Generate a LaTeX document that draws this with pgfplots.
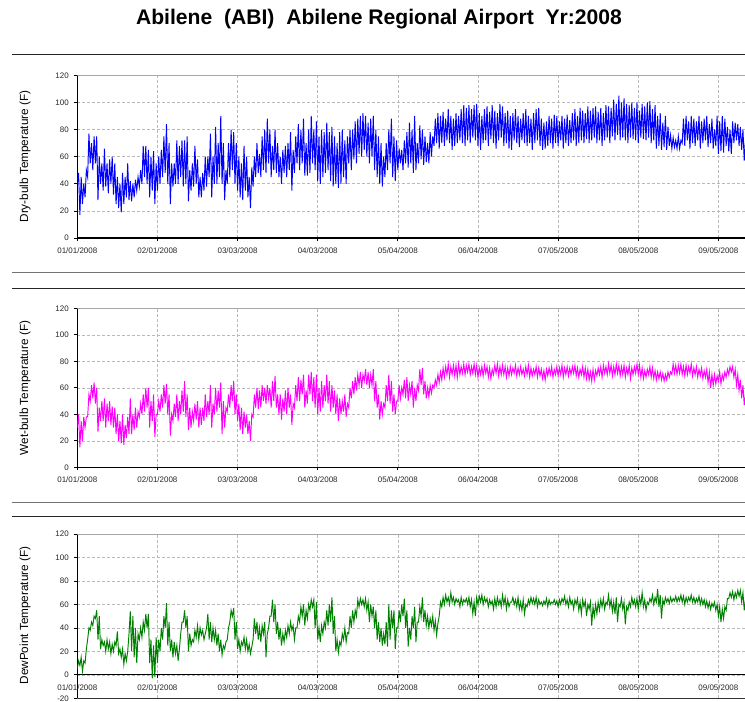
\documentclass[border=0pt]{standalone}
\usepackage{fontspec}
\setmainfont{Liberation Sans}
\usepackage{pgfplots}
\usepackage{pgfplotstable}
\pgfplotsset{compat=1.18}

% daily low / high pairs, 01/01/2008 ... mid Sept 2008 (two readings per day)
\pgfplotstableread[header=false,row sep=\\]{
40\\48\\17\\45\\25\\40\\30\\50\\45\\77\\55\\70\\50\\75\\55\\75\\28\\60\\40\\55\\
35\\66\\38\\55\\33\\58\\40\\60\\32\\55\\25\\45\\22\\40\\19\\48\\25\\45\\30\\55\\
28\\42\\27\\40\\30\\43\\35\\45\\38\\50\\40\\68\\45\\68\\40\\65\\30\\60\\35\\64\\25\\55\\
35\\60\\40\\65\\45\\75\\48\\84\\40\\70\\25\\55\\38\\55\\40\\72\\40\\68\\45\\72\\
38\\72\\40\\75\\27\\50\\35\\55\\38\\68\\40\\58\\30\\45\\30\\48\\35\\60\\38\\60\\
45\\77\\30\\60\\40\\82\\40\\70\\45\\90\\40\\70\\28\\50\\40\\70\\45\\80\\
50\\78\\40\\70\\35\\60\\30\\55\\28\\68\\35\\60\\30\\45\\22\\52\\38\\60\\45\\70\\48\\62\\
45\\75\\50\\80\\48\\88\\55\\80\\45\\68\\50\\80\\48\\70\\45\\60\\40\\65\\48\\68\\
45\\70\\50\\78\\35\\65\\48\\75\\55\\84\\50\\80\\55\\88\\46\\70\\46\\80\\48\\90\\
55\\80\\50\\86\\42\\75\\40\\80\\45\\78\\48\\85\\50\\78\\42\\82\\38\\75\\40\\70\\
37\\78\\40\\80\\45\\72\\40\\75\\55\\80\\50\\80\\58\\86\\55\\88\\62\\90\\60\\92\\
65\\90\\60\\85\\55\\88\\60\\90\\50\\80\\45\\75\\40\\70\\38\\60\\45\\70\\50\\80\\
55\\88\\45\\75\\42\\72\\50\\66\\55\\65\\50\\72\\55\\78\\52\\85\\55\\80\\48\\90\\
50\\70\\55\\83\\58\\80\\54\\75\\56\\70\\55\\78\\60\\75\\68\\88\\70\\92\\66\\90\\
70\\93\\68\\88\\72\\95\\70\\90\\65\\88\\68\\92\\70\\90\\72\\95\\70\\98\\68\\96\\72\\98\\
70\\95\\74\\98\\72\\99\\68\\92\\65\\90\\70\\95\\72\\97\\68\\93\\73\\98\\70\\94\\
66\\92\\72\\99\\74\\97\\68\\92\\70\\94\\66\\90\\65\\92\\72\\95\\70\\90\\67\\88\\
72\\92\\70\\95\\68\\90\\70\\88\\65\\92\\70\\95\\72\\96\\68\\88\\65\\85\\66\\86\\
68\\90\\70\\88\\66\\91\\70\\90\\68\\86\\72\\90\\66\\88\\70\\91\\68\\87\\70\\92\\
72\\95\\68\\90\\70\\96\\72\\94\\70\\92\\73\\97\\70\\94\\72\\96\\74\\97\\70\\93\\
72\\96\\68\\92\\72\\98\\74\\97\\70\\96\\75\\102\\72\\99\\76\\105\\72\\100\\74\\103\\72\\99\\
70\\98\\74\\100\\73\\96\\72\\100\\70\\94\\74\\99\\73\\97\\72\\100\\74\\101\\70\\95\\72\\98\\
66\\90\\68\\92\\65\\85\\67\\90\\65\\82\\68\\76\\66\\74\\67\\72\\66\\75\\66\\72\\
70\\88\\68\\90\\72\\86\\66\\90\\70\\88\\68\\86\\72\\90\\66\\86\\70\\88\\72\\90\\
67\\84\\70\\88\\66\\80\\68\\90\\62\\86\\64\\90\\63\\88\\68\\82\\64\\80\\62\\86\\70\\85\\72\\84\\68\\82\\65\\80\\57\\72\\
}\drybulb

\pgfplotstableread[header=false,row sep=\\]{
30\\40\\15\\35\\20\\38\\30\\38\\38\\55\\50\\62\\52\\64\\48\\60\\27\\45\\35\\50\\
35\\52\\30\\48\\35\\50\\32\\46\\30\\45\\25\\40\\20\\35\\18\\40\\17\\32\\22\\38\\
25\\52\\25\\40\\28\\45\\30\\42\\38\\48\\40\\55\\42\\60\\45\\60\\30\\50\\35\\55\\23\\40\\
40\\50\\42\\55\\45\\62\\48\\63\\40\\55\\24\\40\\35\\48\\38\\55\\35\\50\\40\\58\\
42\\65\\38\\55\\28\\45\\30\\42\\35\\48\\36\\50\\30\\45\\32\\45\\35\\55\\38\\50\\
40\\62\\30\\48\\40\\60\\42\\58\\45\\64\\25\\50\\30\\45\\42\\55\\45\\62\\
50\\65\\40\\55\\35\\48\\28\\45\\25\\42\\30\\40\\25\\35\\20\\40\\38\\55\\45\\60\\44\\58\\
45\\62\\50\\60\\48\\62\\52\\60\\45\\65\\50\\69\\45\\55\\40\\55\\36\\52\\42\\58\\
40\\60\\45\\55\\32\\48\\45\\62\\50\\68\\50\\66\\55\\70\\45\\58\\48\\70\\55\\72\\
50\\68\\45\\70\\40\\60\\42\\65\\45\\62\\50\\70\\48\\65\\42\\62\\45\\58\\40\\55\\
35\\52\\40\\50\\42\\55\\38\\48\\45\\60\\52\\65\\55\\68\\58\\70\\62\\72\\60\\70\\
65\\74\\62\\72\\60\\70\\62\\74\\50\\65\\45\\55\\36\\50\\40\\48\\45\\62\\50\\70\\
48\\65\\42\\55\\40\\50\\50\\62\\52\\60\\55\\66\\52\\68\\50\\62\\55\\65\\45\\60\\
50\\62\\58\\74\\62\\75\\55\\65\\52\\60\\53\\62\\56\\62\\60\\66\\62\\70\\64\\72\\
66\\75\\68\\76\\70\\78\\68\\76\\70\\77\\69\\77\\68\\78\\70\\76\\71\\78\\70\\77\\72\\78\\
70\\76\\71\\78\\70\\77\\68\\75\\70\\76\\69\\77\\71\\76\\68\\75\\67\\74\\70\\77\\
71\\78\\69\\76\\70\\77\\70\\76\\68\\75\\69\\76\\70\\75\\71\\77\\69\\75\\70\\76\\
70\\74\\69\\76\\70\\77\\68\\75\\69\\74\\70\\76\\68\\75\\69\\74\\67\\73\\66\\74\\
69\\75\\70\\76\\68\\74\\70\\76\\69\\75\\70\\77\\68\\75\\70\\76\\69\\75\\70\\76\\
71\\77\\69\\75\\68\\74\\70\\76\\68\\75\\67\\74\\66\\72\\65\\74\\66\\73\\69\\75\\
70\\76\\68\\77\\71\\76\\70\\78\\71\\77\\69\\76\\70\\78\\71\\77\\69\\76\\70\\77\\68\\75\\
70\\77\\67\\75\\70\\76\\71\\78\\70\\77\\68\\75\\67\\73\\68\\74\\70\\76\\68\\75\\67\\73\\
66\\72\\67\\72\\66\\71\\65\\70\\66\\72\\68\\72\\70\\78\\71\\77\\70\\77\\71\\78\\
70\\76\\69\\77\\70\\76\\71\\78\\69\\75\\70\\76\\68\\74\\69\\75\\67\\73\\68\\74\\
64\\72\\60\\70\\62\\70\\63\\69\\65\\72\\63\\70\\66\\72\\68\\74\\70\\76\\72\\76\\68\\74\\62\\70\\58\\66\\52\\62\\47\\55\\
}\wetbulb

\pgfplotstableread[header=false,row sep=\\]{
5\\12\\8\\15\\3\\12\\10\\22\\30\\40\\38\\45\\42\\50\\48\\55\\30\\50\\22\\30\\
25\\28\\20\\30\\22\\28\\18\\26\\20\\28\\25\\37\\18\\22\\15\\22\\9\\18\\12\\20\\
35\\54\\20\\50\\15\\40\\10\\35\\30\\40\\32\\45\\38\\52\\40\\52\\10\\30\\-3\\25\\-2\\32\\
10\\30\\20\\40\\30\\50\\40\\61\\25\\45\\20\\30\\15\\28\\18\\25\\12\\22\\35\\45\\
45\\55\\40\\50\\20\\35\\25\\30\\28\\38\\32\\42\\30\\40\\34\\38\\30\\35\\40\\52\\
30\\45\\28\\40\\30\\38\\25\\35\\20\\30\\17\\25\\22\\28\\30\\40\\45\\55\\
50\\57\\30\\45\\22\\30\\20\\28\\25\\32\\22\\30\\20\\26\\18\\24\\30\\48\\35\\45\\30\\40\\
28\\42\\35\\45\\15\\35\\40\\50\\50\\64\\45\\60\\35\\45\\30\\40\\25\\35\\28\\38\\
32\\42\\35\\45\\38\\42\\30\\40\\40\\50\\45\\58\\50\\60\\42\\55\\48\\60\\55\\64\\
58\\64\\40\\62\\30\\40\\28\\42\\35\\45\\40\\55\\42\\60\\45\\66\\35\\50\\20\\30\\
19\\28\\25\\35\\30\\40\\28\\36\\35\\50\\40\\55\\45\\55\\50\\64\\58\\65\\60\\64\\
58\\65\\55\\62\\45\\60\\50\\58\\40\\55\\30\\45\\28\\40\\25\\35\\26\\45\\24\\60\\
30\\55\\40\\55\\22\\40\\40\\55\\45\\60\\50\\65\\40\\55\\24\\40\\30\\50\\40\\58\\
28\\45\\45\\58\\50\\66\\45\\55\\42\\50\\40\\48\\42\\50\\38\\46\\34\\44\\50\\62\\
58\\66\\60\\68\\62\\66\\60\\70\\62\\66\\60\\65\\62\\64\\58\\66\\60\\64\\62\\65\\60\\66\\
58\\64\\52\\62\\50\\66\\60\\67\\62\\68\\60\\66\\62\\65\\58\\64\\60\\63\\56\\65\\
58\\66\\60\\64\\58\\68\\60\\66\\56\\64\\58\\62\\62\\66\\60\\64\\58\\66\\56\\62\\
55\\64\\52\\60\\58\\64\\60\\66\\61\\65\\60\\66\\58\\64\\60\\62\\59\\63\\60\\65\\
58\\64\\60\\62\\61\\64\\60\\63\\58\\64\\60\\65\\62\\67\\60\\64\\58\\66\\60\\63\\
56\\64\\60\\65\\55\\62\\52\\64\\58\\63\\50\\60\\56\\62\\42\\58\\50\\60\\52\\62\\
55\\64\\58\\65\\56\\62\\60\\68\\58\\64\\54\\62\\52\\66\\45\\60\\58\\65\\56\\62\\43\\58\\
55\\62\\58\\66\\60\\64\\58\\65\\56\\66\\60\\70\\58\\64\\55\\62\\60\\65\\62\\68\\60\\66\\
62\\73\\58\\68\\48\\64\\60\\66\\62\\65\\61\\66\\62\\65\\63\\67\\62\\66\\63\\68\\
62\\67\\60\\66\\62\\66\\63\\68\\62\\66\\61\\65\\62\\67\\60\\65\\60\\64\\58\\63\\
57\\62\\56\\61\\58\\62\\55\\60\\50\\58\\45\\56\\48\\58\\55\\65\\65\\70\\66\\71\\64\\70\\66\\72\\67\\72\\62\\70\\55\\64\\
}\dewpoint

\definecolor{dbblue}{RGB}{0,0,255}
\definecolor{wbmag}{RGB}{255,0,255}
\definecolor{dpgreen}{RGB}{0,128,0}

\pgfplotsset{
  panel/.style={
    scale only axis,
    anchor=south west,
    width=667.7bp,
    xmin=0, xmax=258.3,
    ymax=120,
    axis y line*=left,
    axis line style={black, line width=1.1bp},
    xtick={0,31,62,93,124,155,186,217,248},
    xticklabels={01/01/2008,02/01/2008,03/03/2008,04/03/2008,05/04/2008,06/04/2008,07/05/2008,08/05/2008,09/05/2008},
    ytick={-20,0,20,40,60,80,100,120},
    tick align=outside,
    major tick length=3bp,
    tick style={black, line width=0.7bp},
    xmajorgrids, ymajorgrids,
    grid style={gray!55, line width=0.6bp, dash pattern=on 3bp off 2bp},
    /pgf/number format/assume math mode=true,
    tick label style={font=\fontsize{8}{9.6}\selectfont, text=black!85},
    xticklabel style={yshift=-3bp},
    yticklabel style={xshift=-2bp},
    hide obscured x ticks=false,
    hide obscured y ticks=false,
  },
  series/.style={line width=0.95bp, mark=none},
}

\begin{document}
\begin{tikzpicture}[x=1bp,y=1bp]
\useasboundingbox (0,0) rectangle (745,-702);

\node[anchor=base, font=\bfseries\fontsize{21.2}{25}\selectfont] at (379,-25)
  {Abilene\ \ (ABI)\ \ Abilene Regional Airport\ \ Yr:2008};

\draw[line width=1bp, black!85] (12,-55) -- (745,-55);
\draw[line width=1bp, black!55] (12,-272.7) -- (745,-272.7);
\draw[line width=1bp, black!85] (12,-288.3) -- (745,-288.3);
\draw[line width=1bp, black!55] (12,-502.7) -- (745,-502.7);
\draw[line width=1bp, black!85] (12,-516.7) -- (745,-516.7);

% Dry-bulb
\begin{axis}[panel, at={(77.3bp,-238bp)}, height=162.7bp, ymin=0, axis x line*=bottom]
  \addplot[series, color=dbblue] table[x expr=\coordindex*0.5, y index=0] {\drybulb};
  \draw[gray!70, line width=0.8bp] (rel axis cs:0,1) -- (rel axis cs:1,1);
\end{axis}
\node[rotate=90, font=\fontsize{11.8}{14}\selectfont] at (25,-156.5) {Dry-bulb Temperature (F)};

% Wet-bulb
\begin{axis}[panel, at={(77.3bp,-467.3bp)}, height=159bp, ymin=0, axis x line*=bottom]
  \addplot[series, color=wbmag] table[x expr=\coordindex*0.5, y index=0] {\wetbulb};
  \draw[gray!70, line width=0.8bp] (rel axis cs:0,1) -- (rel axis cs:1,1);
\end{axis}
\node[rotate=90, font=\fontsize{11.8}{14}\selectfont] at (25,-388) {Wet-bulb Temperature (F)};

% Dew point
\begin{axis}[panel, at={(77.3bp,-698.3bp)}, height=164.3bp, ymin=-20, axis x line*=middle]
  \addplot[series, color=dpgreen] table[x expr=\coordindex*0.5, y index=0] {\dewpoint};
  \draw[gray!70, line width=0.8bp] (rel axis cs:0,1) -- (rel axis cs:1,1);
  \draw[black!80, line width=1.1bp] (rel axis cs:0,0) -- (rel axis cs:1,0);
\end{axis}
\node[rotate=90, font=\fontsize{11.8}{14}\selectfont] at (25,-615.5) {DewPoint Temperature (F)};
\end{tikzpicture}
\end{document}
